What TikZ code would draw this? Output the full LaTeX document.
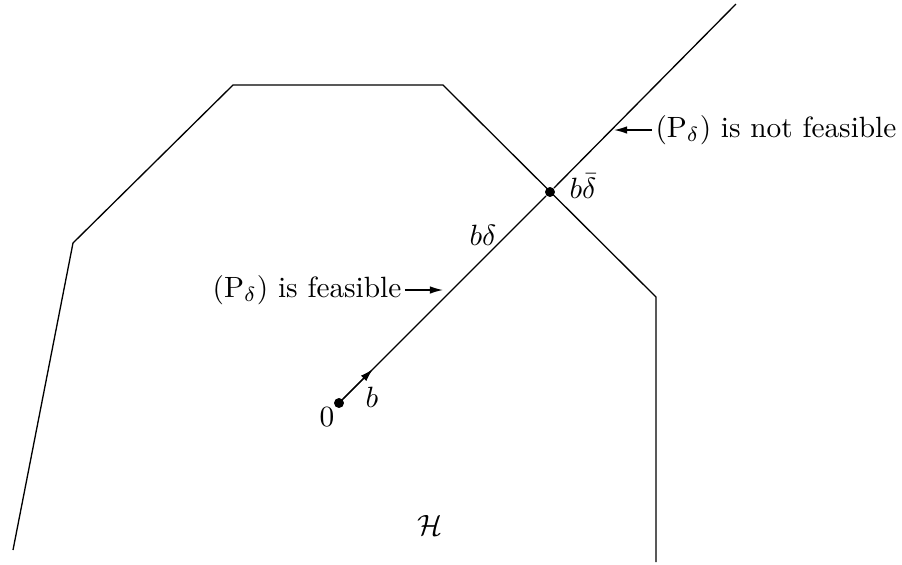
\documentclass[tikz,border=0pt]{standalone}
\usepackage{amsmath,amssymb}
\usetikzlibrary{arrows.meta,positioning}

\begin{document}
\begin{tikzpicture}[
    x=0.341pt,y=-0.341pt,
    line width=0.45pt,
    dot/.style={circle,fill,inner sep=0pt,minimum size=3.4pt},
    lbl/.style={inner sep=1pt,font=\normalsize},
    >={Latex[length=4.5pt,width=2.6pt]}
  ]
    \useasboundingbox (0,0) rectangle (902,564);
    % boundary of H
    \draw (13,550) -- (73,243) -- (233,85) -- (443,85) -- (656,297) -- (656,562);
    % the ray through b
    \node[dot] (O) at (339,403) {};
    \node[dot] (X) at (550,192) {};
    \coordinate (E) at (736,4);
    \coordinate (B) at (373,369);
    \draw (O) -- (X) -- (E);
    \draw[->] (O.center) -- (B);
    \node[lbl,below left=-1pt and -1pt of O] (zero) {$0$};
    \node[lbl] (blab) at (372,397) {$b$};
    \node[lbl] (bd) at (483,235) {$b\delta$};
    \node[lbl] (bdbar) at (583,186) {$b\bar{\delta}$};
    \node[lbl,anchor=east] (feas) at (405,290) {$(\mathrm{P}_\delta)$ is feasible};
    \coordinate (F) at (443,290);
    \draw[->] (feas) -- (F);
    \node[lbl,anchor=west] (nfeas) at (652,130) {$(\mathrm{P}_\delta)$ is not feasible};
    \coordinate (N) at (614,130);
    \draw[->] (nfeas) -- (N);
    \node[lbl] (H) at (430,525) {$\mathcal{H}$};
  \end{tikzpicture}
\end{document}
